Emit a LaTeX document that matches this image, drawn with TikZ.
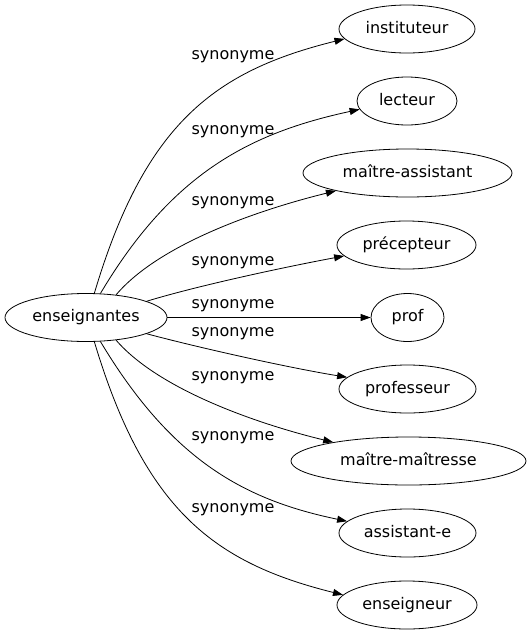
\documentclass[tikz,border=0pt]{standalone}
\usepackage{fontspec}
\setmainfont{DejaVu Sans}
\usetikzlibrary{shapes.geometric,arrows.meta}
\begin{document}
\begin{tikzpicture}[x=1pt,y=-1pt,
  term/.style={ellipse,draw,line width=0.8pt,inner sep=0pt,minimum height=48pt,
    font=\fontsize{16}{19}\selectfont,text height=11.5pt,text depth=3.5pt},
  rel/.style={font=\fontsize{16}{19}\selectfont,inner sep=0pt},
  link/.style={draw,line width=0.8pt,-{Triangle[length=10pt,width=7pt]}}]
\useasboundingbox (0,0) rectangle (529,635);
\node[term,minimum width=162pt] (ens) at (86,317.5) {enseignantes};
\node[term,minimum width=136pt] (inst) at (407,29) {instituteur};
\node[term,minimum width=100pt] (lect) at (407,101) {lecteur};
\node[term,minimum width=209pt] (mass) at (407.5,173) {maître-assistant};
\node[term,minimum width=139pt] (prec) at (406.5,245) {précepteur};
\node[term,minimum width=73pt] (prof) at (407.5,317.5) {prof};
\node[term,minimum width=137pt] (profe) at (407.5,389) {professeur};
\node[term,minimum width=235pt] (mmai) at (408.5,461) {maître-maîtresse};
\node[term,minimum width=137pt] (assi) at (407.5,533) {assistant-e};
\node[term,minimum width=140pt] (ensg) at (407,605) {enseigneur};

\draw[link] (ens.71) .. controls (145,123) and (215,71) .. (inst.189);
\draw[link] (ens.59) .. controls (172,173) and (250,133) .. (lect.190);
\draw[link] (ens.37.8) .. controls (160,243) and (262,209) .. (mass.194);
\draw[link] (ens.15.1) .. controls (200,285) and (290,266) .. (prec.190);
\draw[link] (ens.east) -- (prof.west);
\draw[link] (ens.-15.1) .. controls (200,348) and (290,368) .. (profe.169.4);
\draw[link] (ens.-37.8) .. controls (160,391) and (262,425) .. (mmai.166.6);
\draw[link] (ens.-59) .. controls (172,461) and (245,500) .. (assi.169.4);
\draw[link] (ens.-71) .. controls (145,511) and (215,563) .. (ensg.171);

\node[rel] (l1) at (233,57) {synonyme};
\node[rel] (l2) at (233,132) {synonyme};
\node[rel] (l3) at (233,203) {synonyme};
\node[rel] (l4) at (233,263) {synonyme};
\node[rel] (l5) at (233,306) {synonyme};
\node[rel] (l6) at (233,334) {synonyme};
\node[rel] (l7) at (233,378) {synonyme};
\node[rel] (l8) at (233,438) {synonyme};
\node[rel] (l9) at (233,510) {synonyme};
\end{tikzpicture}
\end{document}
